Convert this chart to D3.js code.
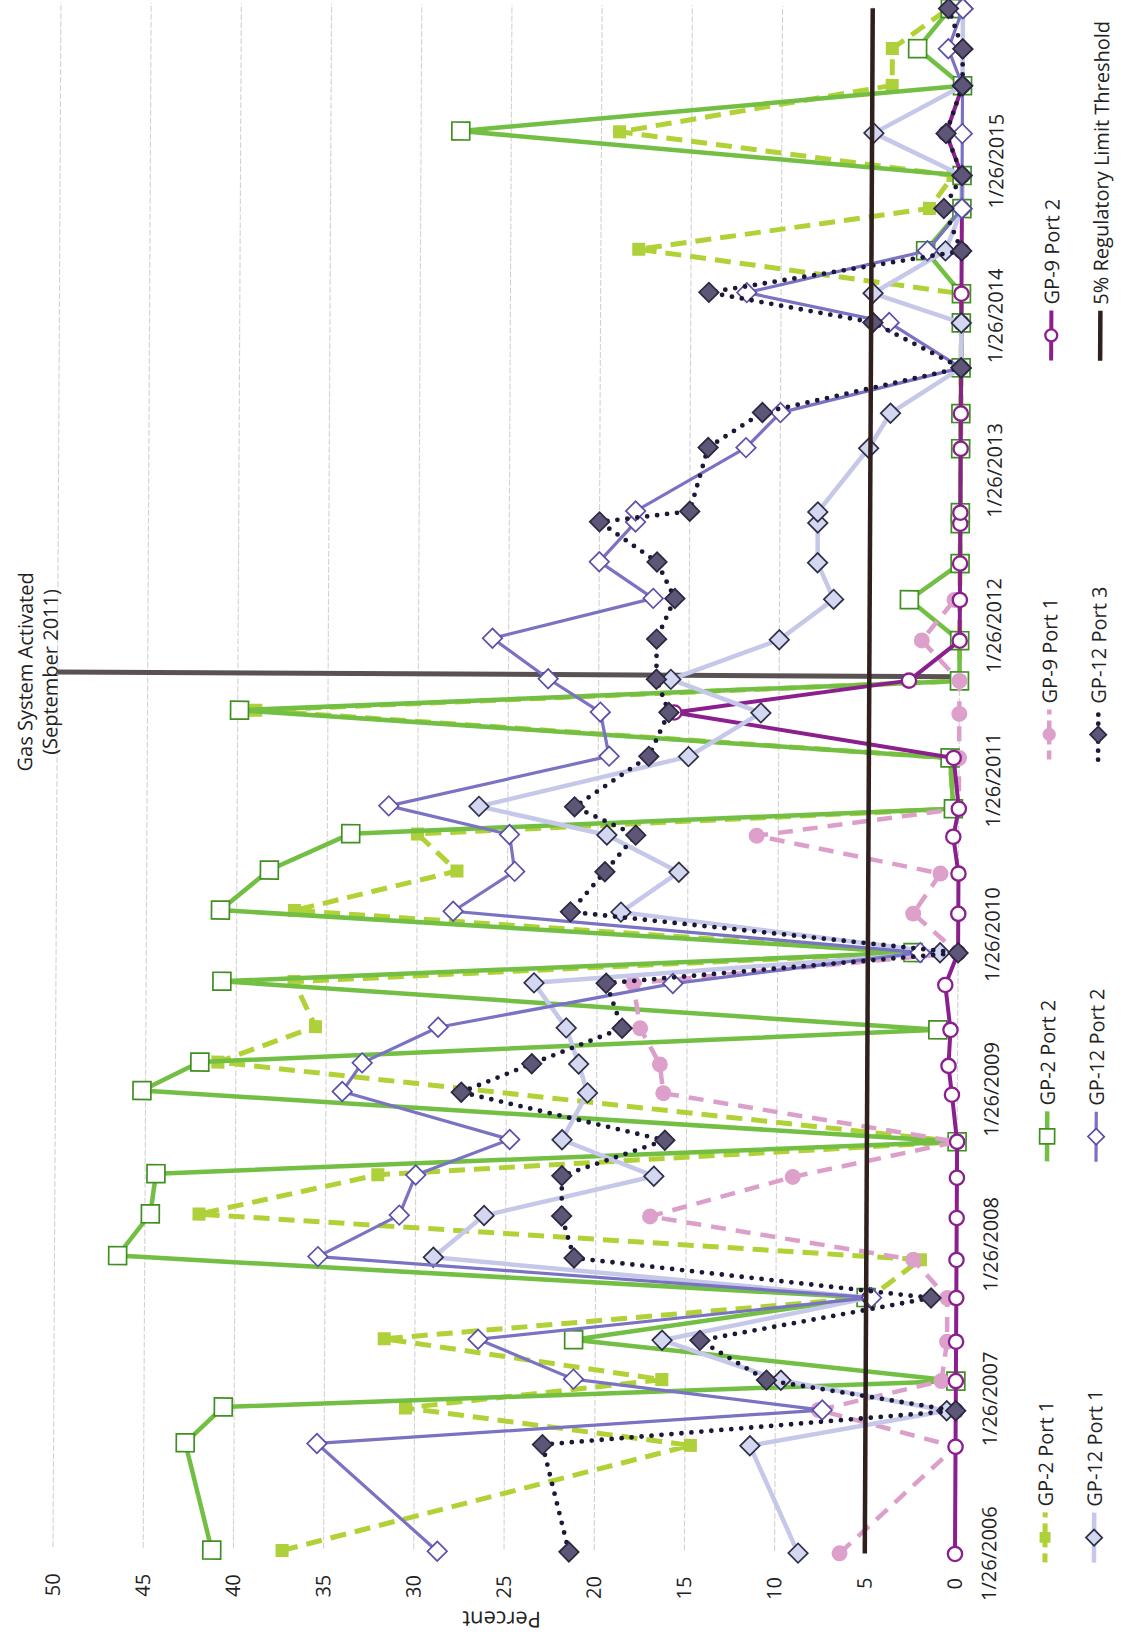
<!DOCTYPE html>
<html lang="en">
<head>
<meta charset="UTF-8" />
<title>Port readings</title>
<style>
  body { margin: 0; background: #fff; }
  .chart svg { display: block; font-family: "Open Sans", sans-serif; }
</style>
</head>
<body>
<div class="chart"></div>
<script src="https://d3js.org/d3.v7.min.js"></script>
<script>
// sample dates (shared by all ports)
const dates = ['2006-01-26','2006-10-06','2006-12-30','2007-03-10','2007-06-11','2007-09-22','2007-12-21',
  '2008-03-29','2008-07-02','2008-09-25','2009-01-14','2009-03-23','2009-06-16','2009-09-30','2009-12-15',
  '2010-03-17','2010-06-20','2010-09-15','2010-11-20','2011-03-20','2011-07-02','2011-09-18','2011-12-22',
  '2012-03-27','2012-06-21','2012-09-23','2012-10-19','2013-03-19','2013-06-10','2013-09-26','2014-01-10',
  '2014-03-20','2014-06-29','2014-10-07','2014-12-24','2015-04-02','2015-07-24','2015-10-19','2016-01-22'];

// percent values, null = no reading
const gp2Port1 = [37.3,14.7,30.5,16.3,31.7,4.8,2.0,42.0,32.1,0,null,41.0,35.6,36.8,2.5,36.8,27.8,30.0,0.3,0.5,
  39.0,0,0,0,0,0,0,0,0,0,0,0,17.9,1.8,0.5,19.0,3.9,3.9,0.8];
const gp2Port2 = [41.2,42.7,40.6,0,21.2,5.0,46.5,44.7,44.4,0,45.2,42.0,1.1,40.8,2.5,40.9,38.2,33.7,0.3,0.5,
  39.9,0,0,2.8,0,0,0,0,0,0,0,0,2.0,0,0,27.8,0,2.5,0.7];
const gp9Port1 = [6.4,0,7.6,0.8,0.5,0.5,2.4,17.0,9.1,0,16.3,16.5,17.6,18.0,0,2.5,1.0,11.2,0,0,
  0,0,2.1,0.3,null,null,null,null,null,null,null,null,null,null,null,null,null,null,null];
const gp9Port2 = [0,0,0,0,0,0,0,0,0,0,0.3,0.5,0.4,0.7,0,0,0,0.3,0,0.3,
  15.8,2.8,0,0,0,0,0,0,0,0,0,0,0,0,0,0.9,0,null,null];
const gp12Port1 = [8.7,11.4,0.5,9.7,16.3,4.8,29.0,26.2,16.8,21.9,20.5,21.0,21.7,23.5,1.0,18.7,15.5,19.5,26.6,15.0,
  11.0,16.0,10.0,7.0,7.9,7.9,7.9,5.1,3.9,0,0,4.9,0.9,0,0,4.9,0,0,0];
const gp12Port2 = [28.7,35.4,7.4,21.2,26.5,4.7,35.4,30.9,30.0,24.8,34.1,33.0,28.8,15.8,2.1,28.0,24.6,24.9,31.6,19.4,
  19.9,22.8,25.9,17.0,20.0,18.0,18.0,11.9,10.0,0,4.0,11.9,1.9,0,0,0,0,0.8,0];
const gp12Port3 = [21.4,22.9,0,10.5,14.2,1.4,21.2,21.9,21.9,16.2,27.5,23.6,18.6,19.5,0,21.5,19.6,17.9,21.3,17.2,
  16.1,16.8,16.8,15.8,16.8,20.0,15.0,14.0,11.0,0,4.9,14.0,0,1.0,0,0.9,0,0,0.8];

const threshold = 5;
const gasActivated = '2011-09-28';
const percentTicks = [0, 5, 10, 15, 20, 25, 30, 35, 40, 45, 50];
const dateTicks = ['2006-01-26','2007-01-26','2008-01-26','2009-01-26','2010-01-26',
  '2011-01-26','2012-01-26','2013-01-26','2014-01-26','2015-01-26'];

const parse = d3.timeParse('%Y-%m-%d');

// series table built from the arrays above
const series = [
  { name: 'GP-2 Port 1', values: gp2Port1, stroke: '#b0d236', width: 5, dash: '16,9', cap: 'butt',
    marker: 'square', size: 170, fill: '#aed03a', mStroke: 'none' },
  { name: 'GP-2 Port 2', values: gp2Port2, stroke: '#72bf44', width: 4.5, dash: null, cap: 'butt',
    marker: 'square', size: 320, fill: '#fff', mStroke: '#3f8f22' },
  { name: 'GP-9 Port 1', values: gp9Port1, stroke: '#dc9fca', width: 4.5, dash: '15,10', cap: 'butt',
    marker: 'circle', size: 200, fill: '#dca0ca', mStroke: 'none' },
  { name: 'GP-9 Port 2', values: gp9Port2, stroke: '#8b1f8e', width: 4, dash: null, cap: 'butt',
    marker: 'circle', size: 160, fill: '#fff', mStroke: '#8b1f8e' },
  { name: 'GP-12 Port 1', values: gp12Port1, stroke: '#c5c8e8', width: 4.5, dash: null, cap: 'butt',
    marker: 'diamond', size: 190, fill: '#d3d7f0', mStroke: '#2e2e48' },
  { name: 'GP-12 Port 2', values: gp12Port2, stroke: '#7a72c2', width: 3.2, dash: null, cap: 'butt',
    marker: 'diamond', size: 190, fill: '#fff', mStroke: '#5b50a8' },
  { name: 'GP-12 Port 3', values: gp12Port3, stroke: '#1b1838', width: 4.8, dash: '0,10', cap: 'round',
    marker: 'diamond', size: 190, fill: '#5e5676', mStroke: '#2b2740' }
];

const W = 1134, H = 1638;
const svg = d3.select('.chart').append('svg').attr('width', W).attr('height', H);

// the chart is laid out normally, then turned on its side like the scan
const g = svg.append('g').attr('transform', 'translate(0,1549) rotate(-89.705)');

const x = d3.scaleTime()
  .domain([parse('2006-01-26'), parse('2016-01-26')])
  .range([0, 1547]);
const y = d3.scaleLinear().domain([0, 50]).range([955, 53]);

// gridlines
g.append('g').selectAll('line')
  .data(percentTicks)
  .join('line')
  .attr('x1', 2).attr('x2', 1547)
  .attr('y1', d => y(d)).attr('y2', d => y(d))
  .attr('stroke', '#d2d2d2').attr('stroke-width', 1.1)
  .attr('stroke-dasharray', '6,2');

// percent axis
const yAxis = g.append('g')
  .attr('transform', 'translate(-24,0)')
  .call(d3.axisLeft(y).tickValues(percentTicks).tickSize(0).tickPadding(0));
yAxis.select('.domain').remove();
yAxis.selectAll('text').attr('font-size', 20).attr('font-family', '"Open Sans", sans-serif').attr('fill', '#222');

// date axis
const xAxis = g.append('g')
  .attr('transform', 'translate(0,982)')
  .call(d3.axisBottom(x).tickValues(dateTicks.map(parse)).tickSize(0).tickPadding(0)
    .tickFormat(d3.timeFormat('%-m/%-d/%Y')));
xAxis.select('.domain').remove();
xAxis.selectAll('text').attr('font-size', 20).attr('font-family', '"Open Sans", sans-serif').attr('fill', '#222');

// axis title
g.append('text')
  .attr('transform', 'translate(-69,502) rotate(-90)')
  .attr('text-anchor', 'middle')
  .attr('dominant-baseline', 'central')
  .attr('font-size', 22).attr('fill', '#222')
  .text('Percent');

// gas system activation line
const gx = x(parse(gasActivated));
g.append('line')
  .attr('x1', gx).attr('x2', gx)
  .attr('y1', y(0)).attr('y2', y(50))
  .attr('stroke', '#5a5252').attr('stroke-width', 5);
g.append('text').attr('x', gx).attr('y', 28).attr('text-anchor', 'middle')
  .attr('font-size', 20).attr('fill', '#222').text('Gas System Activated');
g.append('text').attr('x', gx).attr('y', 53).attr('text-anchor', 'middle')
  .attr('font-size', 20).attr('fill', '#222').text('(September 2011)');

function symbolPath(type, size) {
  if (type === 'circle') return d3.symbol().type(d3.symbolCircle).size(size)();
  return d3.symbol().type(d3.symbolSquare).size(size)();
}

function addMarker(sel, s) {
  sel.attr('d', symbolPath(s.marker, s.size))
    .attr('fill', s.fill)
    .attr('stroke', s.mStroke)
    .attr('stroke-width', s.mStroke === 'none' ? 0 : (s.marker === 'circle' ? 2.3 : 1.7));
}

const line = d3.line().x(d => x(d.date)).y(d => y(d.value));

series.forEach(s => {
  const pts = dates.map((d, i) => ({ date: parse(d), value: s.values[i] }))
    .filter(p => p.value !== null);
  const sg = g.append('g');
  sg.append('path')
    .datum(pts)
    .attr('d', line)
    .attr('fill', 'none')
    .attr('stroke', s.stroke)
    .attr('stroke-width', s.width)
    .attr('stroke-linejoin', 'round')
    .attr('stroke-linecap', s.cap)
    .attr('stroke-dasharray', s.dash);
  sg.selectAll('path.mk')
    .data(pts)
    .join('path')
    .attr('class', 'mk')
    .attr('transform', d => `translate(${x(d.date)},${y(d.value)})` + (s.marker === 'diamond' ? ' rotate(45)' : ''))
    .call(addMarker, s);
});

// 5% regulatory limit
g.append('line')
  .attr('x1', x(parse(dates[0]))).attr('x2', x(parse(dates[dates.length - 1])))
  .attr('y1', y(threshold)).attr('y2', y(threshold))
  .attr('stroke', '#2f1f1d').attr('stroke-width', 4.5);

// legend, two rows of four
const legendItems = series.concat([{ name: '5% Regulatory Limit Threshold', stroke: '#2f1f1d', width: 4.5,
  dash: null, cap: 'butt', marker: null }]);
const colX = [-8, 393, 795, 1194];
const rowY = [1045, 1094];
legendItems.forEach((s, i) => {
  const lx = colX[i % 4], ly = rowY[Math.floor(i / 4)];
  const lg = g.append('g').attr('transform', `translate(${lx},${ly})`);
  lg.append('line')
    .attr('x1', 0).attr('x2', 50).attr('y1', 0).attr('y2', 0)
    .attr('stroke', s.stroke).attr('stroke-width', s.width)
    .attr('stroke-linecap', s.cap).attr('stroke-dasharray', s.dash ? (s.cap === 'round' ? '0,9' : '9,6') : null);
  if (s.marker) {
    lg.append('path')
      .attr('transform', 'translate(25,0)' + (s.marker === 'diamond' ? ' rotate(45)' : ''))
      .call(addMarker, Object.assign({}, s, { size: s.size * 0.7 }));
  }
  lg.append('text')
    .attr('x', 56).attr('y', 0)
    .attr('dominant-baseline', 'central')
    .attr('font-size', 20).attr('fill', '#222')
    .text(s.name);
});
</script>
</body>
</html>
